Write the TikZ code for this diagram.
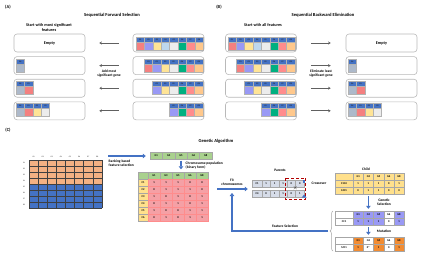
\documentclass[tikz,border=0pt]{standalone}
\usepackage{fontspec}
\setmainfont{Carlito}
\usetikzlibrary{arrows.meta, positioning, calc, decorations.pathreplacing}

\definecolor{hdrblue}{RGB}{68,114,196}
\definecolor{gr}{RGB}{244,128,128}
\definecolor{gp}{RGB}{153,153,245}
\definecolor{gy}{RGB}{255,228,150}
\definecolor{gb}{RGB}{189,215,238}
\definecolor{gw}{RGB}{236,236,236}
\definecolor{gg}{RGB}{0,176,128}
\definecolor{gk}{RGB}{255,140,140}
\definecolor{go}{RGB}{255,200,140}
\definecolor{gs}{RGB}{173,185,202}
\definecolor{matorange}{RGB}{244,177,131}
\definecolor{ggreen}{RGB}{169,209,142}
\definecolor{tyellow}{RGB}{255,224,140}
\definecolor{tpink}{RGB}{245,160,165}
\definecolor{pgrey}{RGB}{214,220,232}
\definecolor{morange}{RGB}{242,140,50}

% one strip of gene cells: name, left x, top y, list label/colour
\newcommand{\genestrip}[4]{%
  \foreach \g/\c [count=\i from 0] in {#4} {
    \node[genehdr] (#1h\i) at ({#2+8.4*\i+4.2},{#3+2.5}) {G\g};
    \node[genecol, fill=\c] (#1c\i) at ({#2+8.4*\i+4.2},{#3+9}) {};
  }}

\begin{document}
\begin{tikzpicture}[x=1pt, y=-1pt,
    node distance=4pt,
    paneltag/.style={font=\fontsize{4.5}{5}\selectfont\bfseries},
    title/.style={font=\fontsize{4.6}{5}\selectfont\bfseries},
    subtitle/.style={font=\fontsize{4.2}{5}\selectfont\bfseries, align=center},
    note/.style={font=\fontsize{3.6}{4.2}\selectfont\bfseries, align=center, inner sep=0.5pt},
    rowbox/.style={draw=gray!55, rounded corners=3pt, line width=0.6pt,
                   minimum width=71pt, minimum height=18pt, inner sep=0,
                   font=\fontsize{4.2}{5}\selectfont\bfseries},
    genehdr/.style={draw=gray!60, fill=hdrblue, minimum width=8.4pt, minimum height=5pt,
                    inner sep=0, font=\fontsize{2}{2}\selectfont\bfseries, text=black!85},
    genecol/.style={draw=gray!60, minimum width=8.4pt, minimum height=8pt, inner sep=0},
    selarr/.style={draw=gray!75!black, line width=0.8pt, -{Stealth[length=2.6pt,width=3pt]}},
    gaarr/.style={draw=hdrblue, line width=1.7pt, -{Triangle[length=3pt,width=4.6pt]}},
    gridln/.style={draw=black!75, line width=0.35pt},
    tcell/.style={draw=gray!70, minimum height=7pt, inner sep=0,
                  font=\fontsize{2.8}{3}\selectfont\bfseries},
    tiny/.style={font=\fontsize{1.8}{2}\selectfont, inner sep=0}
  ]
  \useasboundingbox (0,0) rectangle (423,255);

  % (A) forward selection
  \node[paneltag] (tagA) at (8,7) {(A)};
  \node[title] (titA) at (112,15) {Sequential Forward Selection};
  \node[subtitle] (startA) at (49,27.5) {Start with most significant\\features};
  \node[rowbox] (fl1) at (49.5,43) {Empty};
  \node[rowbox, below=of fl1] (fl2) {};
  \node[rowbox, below=of fl2] (fl3) {};
  \node[rowbox, below=of fl3] (fl4) {};
  \node[rowbox] (fr1) at (168.5,43) {};
  \node[rowbox, below=of fr1] (fr2) {};
  \node[rowbox, below=of fr2] (fr3) {};
  \node[rowbox, below=of fr3] (fr4) {};
  \genestrip{far1}{136}{37}{1/gr,2/gp,3/gy,4/gb,5/gw,6/gg,7/gk,8/go}
  \genestrip{far2}{144.2}{59}{1/gr,2/gp,3/gy,5/gw,6/gg,7/gk,8/go}
  \genestrip{far3}{152.6}{81}{2/gp,3/gy,5/gw,6/gg,7/gk,8/go}
  \genestrip{far4}{169.4}{103}{2/gp,6/gg,7/gk,8/go}
  \genestrip{fal2}{16}{59}{4/gs}
  \genestrip{fal3}{16}{81}{4/gs,1/gr}
  \genestrip{fal4}{16}{103}{4/gs,1/gr,3/gy,5/gw}
  \foreach \r in {1,...,4}
    \draw[selarr, shorten <=14pt, shorten >=14pt] (fr\r.west) -- (fl\r.east);
  \node[note] (addA) at (109,73.5) {Add most\\significant gene};

  % (B) backward elimination
  \node[paneltag] (tagB) at (219,7) {(B)};
  \node[title] (titB) at (323,15) {Sequential Backward Elimination};
  \node[subtitle] (startB) at (263,25) {Start with all features};
  \node[rowbox] (bl1) at (261,43) {};
  \node[rowbox, below=of bl1] (bl2) {};
  \node[rowbox, below=of bl2] (bl3) {};
  \node[rowbox, below=of bl3] (bl4) {};
  \node[rowbox] (br1) at (381.5,43) {Empty};
  \node[rowbox, below=of br1] (br2) {};
  \node[rowbox, below=of br2] (br3) {};
  \node[rowbox, below=of br3] (br4) {};
  \genestrip{bal1}{227.8}{37}{1/gr,2/gp,3/gy,4/gb,5/gw,6/gg,7/gk,8/go}
  \genestrip{bal2}{236.2}{59}{1/gr,2/gp,3/gy,5/gw,6/gg,7/gk,8/go}
  \genestrip{bal3}{244.6}{81}{2/gp,3/gy,5/gw,6/gg,7/gk,8/go}
  \genestrip{bal4}{261.4}{103}{2/gp,6/gg,7/gk,8/go}
  \genestrip{bar2}{348}{59}{4/gs}
  \genestrip{bar3}{348}{81}{4/gs,1/gr}
  \genestrip{bar4}{348}{103}{4/gs,1/gr,3/gy,5/gw}
  \foreach \r in {1,...,4}
    \draw[selarr, shorten <=14pt, shorten >=15pt] (bl\r.east) -- (br\r.west);
  \node[note] (elimB) at (321,73.5) {Eliminate least\\significant gene};

  % (C) genetic algorithm
  \node[paneltag] (tagC) at (8,130) {(C)};
  \node[title] (titC) at (216,141) {Genetic Algorithm};

  % data matrix
  \node[minimum width=72.8pt, minimum height=48pt, inner sep=0] (mat) at (65.4,184) {};
  \fill[matorange] (mat.north west) rectangle (mat.east);
  \fill[hdrblue] (mat.west) rectangle (mat.south east);
  \foreach \k in {0,...,8} {
    \draw[gridln] ({29+9.1*\k},160) -- ({29+9.1*\k},208);
    \draw[gridln] (29,{160+6*\k}) -- (101.8,{160+6*\k});
  }
  \foreach \k in {1,...,8} {
    \node[tiny] (mc\k) at ({29+9.1*\k-4.55},156.8) {G\k};
    \node[tiny] (mr\k) at (24,{157+6*\k}) {S\k};
  }

  % ranked genes
  \foreach \g [count=\i from 0] in {1,3,5,6,8}
    \node[tcell, fill=ggreen, minimum width=12.4pt] (gs\i) at ({156.2+12.4*\i},156) {G\g};
  \draw[gaarr, shorten <=6pt, shorten >=4pt] (mat.north east |- gs0.west) -- (gs0.west);
  \node[note, anchor=north west, align=left] (rankl) at (108,159.5) {Ranking based\\feature selection};

  % population table
  \node[tcell, fill=ggreen, minimum width=10pt] (th0) at (143,175.5) {};
  \foreach \g [count=\i] in {1,3,5,6,8}
    \node[tcell, fill=ggreen, minimum width=12pt] (th\i) at ({142+12*\i},175.5) {G\g};
  \foreach \vals [count=\j] in {{1,1,1,0,0},{0,1,1,1,0},{1,0,1,0,1},{0,1,1,0,1},{1,0,0,1,1},{0,1,0,1,1}} {
    \node[tcell, fill=tyellow, minimum width=10pt] (t\j c0) at (143,{175.5+7*\j}) {C\j};
    \foreach \v [count=\i] in \vals
      \node[tcell, draw=red!45, fill=tpink, minimum width=12pt] (t\j c\i) at ({142+12*\i},{175.5+7*\j}) {\v};
  }
  \draw[gaarr, shorten <=1pt, shorten >=2.5pt] (gs2.south) -- (gs2.south |- th3.north);
  \node[note, anchor=west, align=left] (popl) at (185,165.5) {Chromosome population\\(binary form)};

  % parents
  \coordinate (fitin) at (217,189);
  \node[note] (fitl) at (232,182) {Fit\\chromosomes};
  \node[note] (parl) at (280,170) {Parents};
  \node[tcell, fill=pgrey, minimum width=10pt] (pa0) at (257,183.5) {C1};
  \node[tcell, fill=pgrey, minimum width=10pt] (pb0) at (257,193.5) {C4};
  \foreach \v [count=\i] in {1,1,1,0,0}
    \node[tcell, fill=pgrey, minimum width=8.4pt] (pa\i) at ({257.8+8.4*\i},183.5) {\v};
  \foreach \v [count=\i] in {0,1,1,0,1}
    \node[tcell, fill=pgrey, minimum width=8.4pt] (pb\i) at ({257.8+8.4*\i},193.5) {\v};
  \draw[gaarr, shorten >=4pt] (fitin) -- (fitin -| pa0.west);
  \draw[red!70!black, densely dashed, line width=0.5pt]
    ($(pa4.north west)+(-1.5,-2)$) rectangle ($(pb5.south east)+(1.5,2)$);
  \node[tiny, font=\fontsize{3}{3}\selectfont] (xmark) at ($(pa5.south west)!0.5!(pb5.north west)$) {$\times$};

  % child
  \node[note] (crossl) at (319,183.5) {Crossover};
  \node[note] (childl) at (366,169) {Child};
  \node[tcell, fill=tyellow, minimum width=18pt] (chh0) at (344,176.5) {};
  \node[tcell, fill=tyellow, minimum width=18pt] (cha0) at (344,183.5) {C1C4};
  \node[tcell, fill=tyellow, minimum width=18pt] (chb0) at (344,190.5) {C4C1};
  \foreach \g [count=\i] in {1,3,5,6,8}
    \node[tcell, fill=tyellow, minimum width=10.2pt] (chh\i) at ({348+10.2*\i},176.5) {G\g};
  \foreach \v [count=\i] in {1,1,1,0,1}
    \node[tcell, fill=tyellow, minimum width=10.2pt] (cha\i) at ({348+10.2*\i},183.5) {\v};
  \foreach \v [count=\i] in {0,1,1,0,0}
    \node[tcell, fill=tyellow, minimum width=10.2pt] (chb\i) at ({348+10.2*\i},190.5) {\v};
  \draw[gaarr, shorten <=6pt, shorten >=6pt] ($(pa5.east)!0.5!(pb5.east)$) -- ($(pa5.east)!0.5!(pb5.east)$ -| chh0.west);

  % genetic selection
  \node[tcell, fill=white, minimum width=18pt] (gsh0) at (344,214.5) {};
  \node[tcell, fill=white, minimum width=18pt] (gsb0) at (344,221.5) {CC1};
  \foreach \g/\v/\c [count=\i] in {1/1/gp,3/1/gp,5/1/gp,6/0/white,8/1/gp} {
    \node[tcell, fill=\c, minimum width=10.2pt] (gsh\i) at ({348+10.2*\i},214.5) {G\g};
    \node[tcell, fill=\c, minimum width=10.2pt] (gsb\i) at ({348+10.2*\i},221.5) {\v};
  }
  \draw[gaarr, shorten <=2pt, shorten >=2pt] (chb2.south) -- (gsh2.north);
  \node[note] (gsell) at (384,202.5) {Genetic\\Selection};

  % mutation
  \node[tcell, fill=white, minimum width=18pt] (muh0) at (344,240.5) {};
  \node[tcell, fill=white, minimum width=18pt] (mub0) at (344,247.5) {MC1};
  \foreach \g/\v/\c [count=\i] in {1/1/morange,3/0*/white,5/1/morange,6/0/white,8/1/morange} {
    \node[tcell, fill=\c, minimum width=10.2pt] (muh\i) at ({348+10.2*\i},240.5) {G\g};
    \node[tcell, fill=\c, minimum width=10.2pt] (mub\i) at ({348+10.2*\i},247.5) {\v};
  }
  \draw[gaarr, shorten <=2pt, shorten >=2pt] (gsb2.south) -- (muh2.north);
  \node[note] (mutl) at (384,231) {Mutation};

  % feedback
  \draw[gray!70, line width=0.5pt, decorate, decoration={brace, amplitude=3pt}]
    (333,251) -- (333,211);
  \coordinate (fbk) at (328,231);
  \coordinate (fitmid) at (232,193);
  \draw[gaarr] (fbk) -| (fitmid);
  \node[note] (featl) at (285,226.5) {Feature Selection};
\end{tikzpicture}
\end{document}
